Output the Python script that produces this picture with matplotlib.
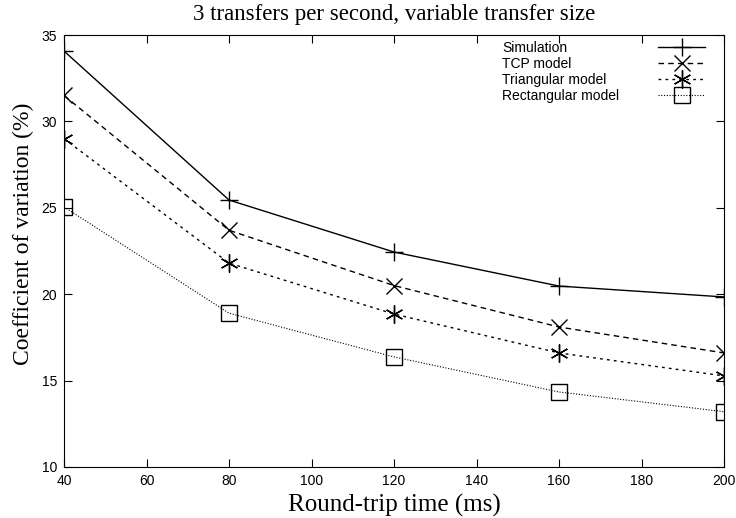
import matplotlib
matplotlib.use('Agg')
import matplotlib.pyplot as plt
from matplotlib.lines import Line2D

# Data
rtt = [40, 80, 120, 160, 200]
simulation = [34.07, 25.45, 22.44, 20.47, 19.84]
tcp_model = [31.5, 23.7, 20.5, 18.1, 16.6]
triangular = [29.0, 21.8, 18.85, 16.6, 15.27]
rectangular = [25.05, 18.9, 16.37, 14.34, 13.2]

labels = ['Simulation', 'TCP model', 'Triangular model', 'Rectangular model']
x_ticks = [40, 60, 80, 100, 120, 140, 160, 180, 200]
y_ticks = [10, 15, 20, 25, 30, 35]

fig = plt.figure(figsize=(7.36, 5.18), dpi=100)
ax = fig.add_axes([0.087, 0.0985, 0.8967, 0.8339])

l1, = ax.plot(rtt, simulation, '-', color='black', lw=1.0, marker='+',
              ms=13, mew=1.0)
l2, = ax.plot(rtt, tcp_model, color='black', lw=1.0, ls=(0, (4, 3)),
              marker='x', ms=11, mew=1.0)
l3, = ax.plot(rtt, triangular, color='black', lw=1.0, ls=(0, (2, 3)),
              marker=(6, 2, 0), ms=13, mew=1.0)
l4, = ax.plot(rtt, rectangular, color='black', lw=0.8, ls=(0, (1, 1.5)),
              marker='s', ms=12, mew=1.0, mfc='none')

ax.set_xlim(40, 200)
ax.set_ylim(10, 35)
ax.set_xticks(x_ticks)
ax.set_yticks(y_ticks)
ax.tick_params(direction='in', top=True, right=True, length=6,
               labelsize=10, pad=5)
for lab in ax.get_xticklabels() + ax.get_yticklabels():
    lab.set_family('Liberation Sans')

ax.set_xlabel('Round-trip time (ms)', family='Liberation Serif',
              fontsize=18, labelpad=4)
ax.set_ylabel('Coefficient of variation (%)', family='Liberation Serif',
              fontsize=17)
ax.yaxis.set_label_coords(-0.045, 0.54)
ax.set_title('3 transfers per second, variable transfer size',
             family='Liberation Serif', fontsize=16.5, pad=10.5)

# gnuplot style key: text left aligned, samples on the right
blank = [Line2D([], [], color='none') for _ in labels]
key_text = ax.legend(blank, labels, loc='upper left',
                     bbox_to_anchor=(0.655, 0.999), frameon=False,
                     prop={'family': 'Liberation Sans', 'size': 10},
                     handlelength=0, handletextpad=0, labelspacing=0.15,
                     borderaxespad=0)
ax.add_artist(key_text)
ax.legend([l1, l2, l3, l4], [''] * 4, loc='upper right',
          bbox_to_anchor=(0.98, 0.999), frameon=False,
          prop={'family': 'Liberation Sans', 'size': 10},
          handlelength=3.4, handletextpad=0, labelspacing=0.15,
          borderaxespad=0)

plt.savefig('out.png', dpi=100)
